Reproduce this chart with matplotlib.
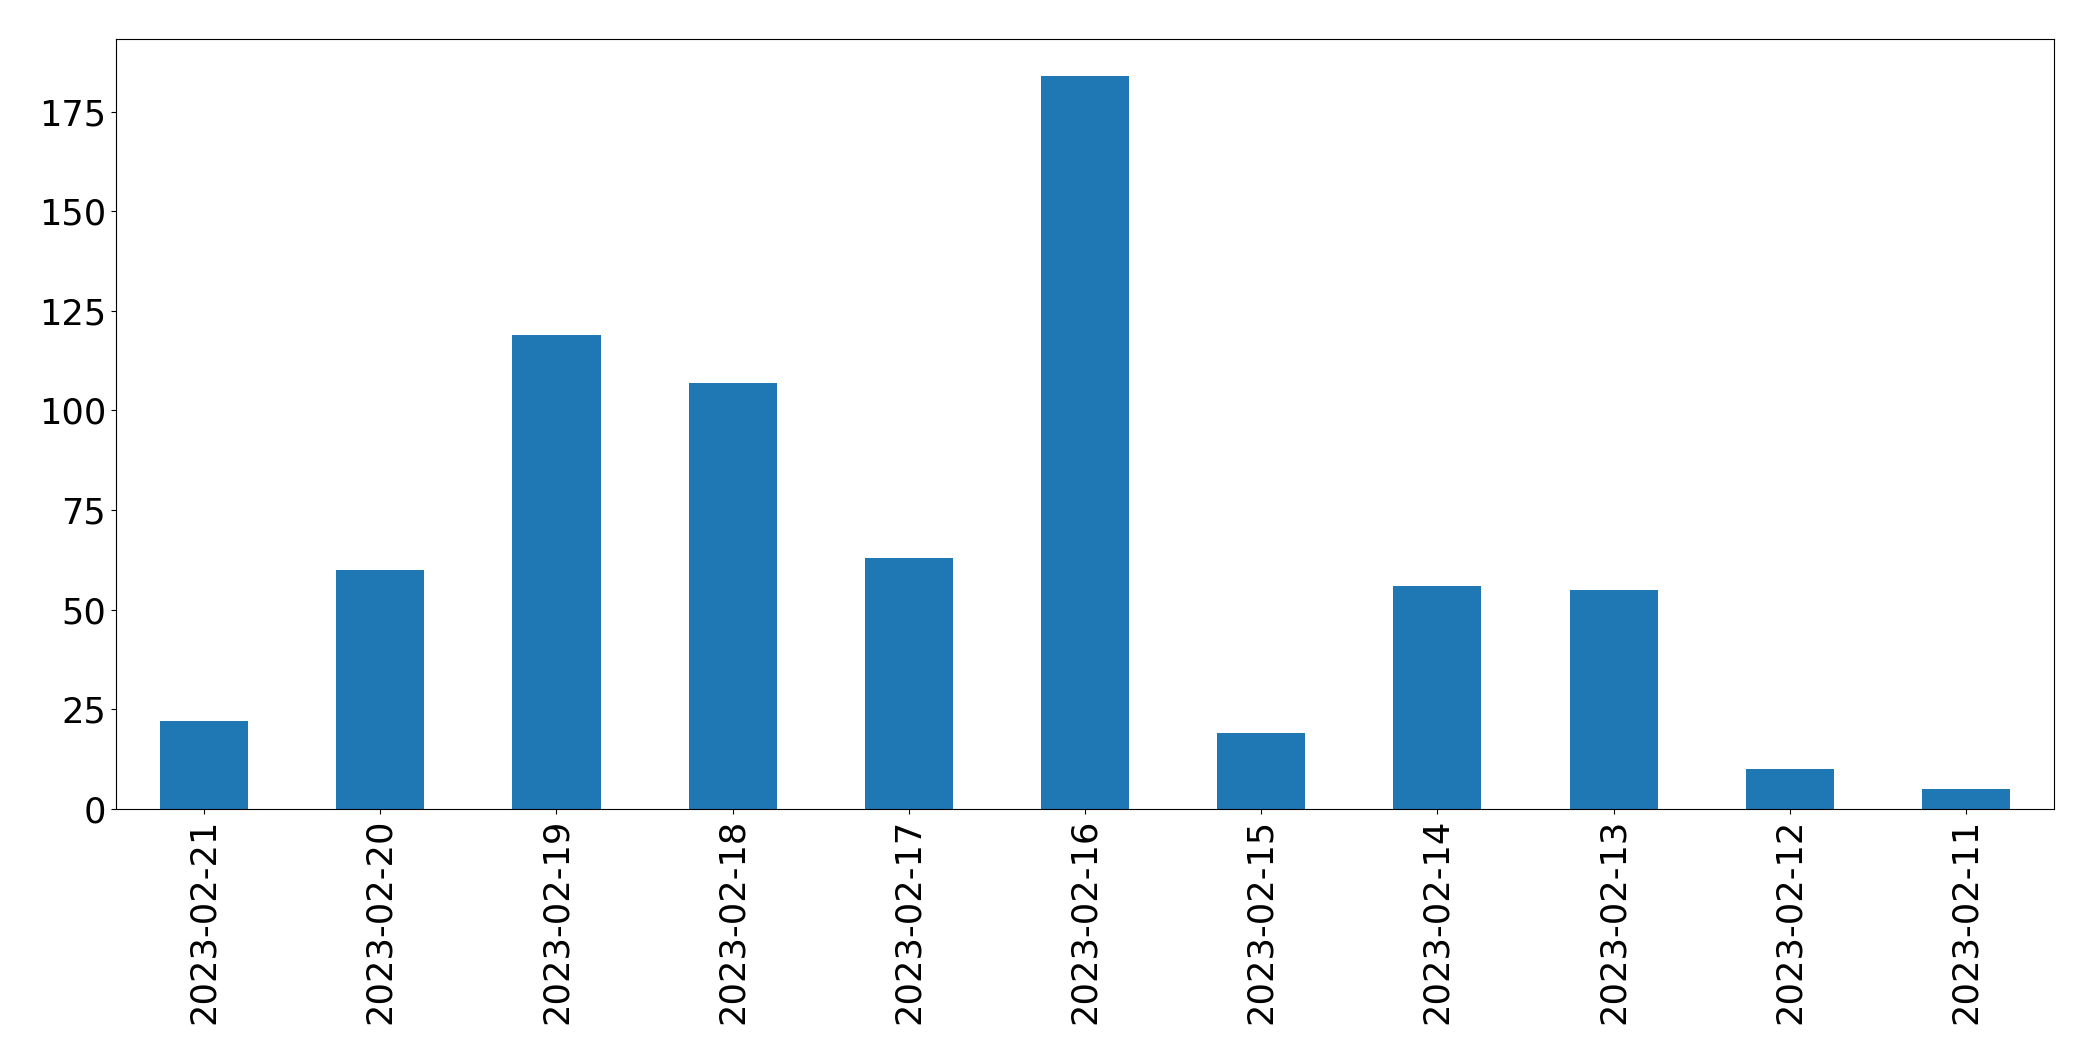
import matplotlib
matplotlib.use('Agg')
import matplotlib.pyplot as plt
import pandas as pd

dates = ['2023-02-21', '2023-02-20', '2023-02-19', '2023-02-18', '2023-02-17', '2023-02-16',
         '2023-02-15', '2023-02-14', '2023-02-13', '2023-02-12', '2023-02-11']
counts = [22, 60, 119, 107, 63, 184, 19, 56, 55, 10, 5]

s = pd.Series(counts, index=dates)

fig = plt.figure(figsize=(20.93, 10.61), dpi=100)
ax = fig.add_subplot(111)
s.plot.bar(ax=ax, color='#1f77b4')
ax.tick_params(axis='both', labelsize=25.4)

fig.subplots_adjust(left=116/2093, right=2054/2093, top=1-39/1061, bottom=1-809/1061)
plt.savefig('out.png')
